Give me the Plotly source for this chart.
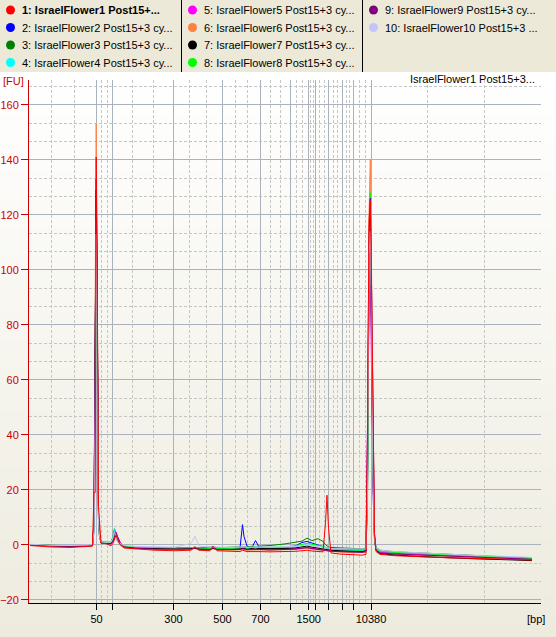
import plotly.graph_objects as go

# ---------------- data ----------------
# migration position (arbitrary time units) of each sample point
X = [30, 50, 70, 88, 92.5, 94, 95.2, 96.2, 97.2, 98.5, 99.5, 101, 106, 111, 113, 114.5, 116, 117.5, 120, 124,
     135, 155, 175, 191, 195, 199, 210, 213, 217, 232, 240, 242.5, 244, 247, 252, 255.5, 259, 270, 285, 295,
     302, 307, 312, 318, 323, 325.5, 327, 328.5, 331, 340, 352, 362, 366, 367.5, 369, 370.3, 371.5, 373, 374.5, 376,
     380, 395, 420, 450, 480, 510, 532]

Y1 = [-0.3, -0.8, -1.0, -0.8, -0.5, 19, 19, 141, 100, 14, 7, 0.5, 0.4, -0.4, 0.5, 2, 3.5, 2, 0, -1.2,
      -1.5, -2, -2.2, -2, -0.8, -2, -2.2, -0.5, -2.2, -2.4, -2.5, -2, -2.2, -2.5, -2.5, -2.4, -2.5, -2.6, -2.6, -2.4,
      -2.2, -2, -2.3, -2.4, -2.6, 8, 18, 6, -3, -3.4, -3.6, -3.8, -3.5, 40, 118, 125, 95, 40, 4, -2.5,
      -3.5, -4, -4.4, -4.8, -5, -5.4, -5.6]
Y2 = [0, -0.3, -0.5, -0.4, 0, 8, 60, 125, 90, 10, 4, 1, 0.8, 0.8, 2.5, 5.5, 3, 1.5, 0.3, -0.6,
      -1, -1.2, -1.3, -1.2, -1, -1.3, -1.4, -1.2, -1.4, -1.5, -1.2, 7.3, 3, -0.5, -1, 1.5, -0.8, -1.2, -1.2, -0.5,
      0.8, 1.2, 0.6, 0, -0.5, -1, -1.2, -1.3, -1.5, -1.8, -2, -2.2, -2, 20, 100, 110, 80, 30, 3, -1.5,
      -2.5, -3, -3.3, -3.6, -4.2, -4.6, -5]
Y3 = [0, -0.3, -0.4, -0.3, 0, 6, 55, 122, 85, 9, 3, 1, 0.9, 0.9, 3, 5.8, 3.5, 1.5, 0.5, -0.5,
      -0.9, -1.1, -1.2, -1.1, -0.9, -1.2, -1.1, -0.8, -1.1, -1.0, -0.8, -0.6, -0.7, -0.8, -0.6, -0.7, -0.5, -0.3, 0.3, 0.8,
      1.3, 2.4, 1.5, 2.2, 1.2, 0, -0.5, -0.8, -1, -1.2, -1.4, -1.5, -1.2, 15, 95, 108, 75, 25, 2, -1,
      -2, -2.6, -3, -3.4, -4, -4.5, -5]
Y4 = [0, -0.4, -0.5, -0.4, -0.1, 5, 50, 116, 80, 8, 3, 0.8, 0.7, 0.7, 3, 5.5, 3, 1, 0.2, -0.7,
      -1.1, -1.3, -1.4, -1.3, -1.1, -1.4, -1.5, -1.3, -1.5, -1.6, -1.4, -1, -1.3, -1.5, -1.2, -0.5, -1.2, -1.3, -1.2, -0.8,
      -0.3, 0.3, 0, -0.4, -0.8, -1.2, -1.4, -1.5, -1.7, -1.9, -2, -2.2, -1.8, 35, 100, 105, 70, 20, 2, -1.5,
      -2.5, -3, -3.4, -3.8, -4.3, -4.8, -5.2]
Y5 = [-0.1, -0.5, -0.6, -0.5, -0.2, 5, 45, 120, 85, 9, 3, 0.6, 0.5, 0.3, 1, 3, 4.4, 3, 1, -0.6,
      -1.2, -1.5, -1.6, -1.5, -1.2, -1.6, -1.7, -1.4, -1.7, -1.8, -1.6, -1.3, -1.5, -1.7, -1.6, -1.5, -1.6, -1.8, -1.7, -1.5,
      -1.2, -1, -1.3, -1.5, -1.8, -2, -2.1, -2.2, -2.3, -2.4, -2.5, -2.6, -2.3, 45, 90, 100, 65, 20, 2, -2,
      -2.8, -3.2, -3.6, -4, -4.5, -4.9, -5.3]
Y6 = [-0.2, -0.5, -0.7, -0.6, -0.3, 10, 70, 153, 100, 12, 5, 0.8, 0.5, 0.3, 1.5, 3.5, 3.8, 2, 0.5, -0.8,
      -1.3, -1.7, -1.8, -1.7, -1.4, -1.8, -1.9, -0.8, -1.9, -2, -1.8, -1.6, -1.8, -2, -1.9, -1.8, -1.9, -2, -1.9, -1.7,
      -1.5, -1.3, -1.6, -1.8, -2, -2.2, -2.3, -2.4, -2.5, -2.7, -2.9, -3, -2.8, 30, 120, 140, 100, 30, 3, -2,
      -3, -3.5, -3.9, -4.3, -4.7, -5.1, -5.4]
Y7 = [0, -0.4, -0.6, -0.5, -0.2, 8, 60, 129, 90, 10, 4, 0.7, 0.6, 0.5, 2, 4.5, 3, 1.5, 0.3, -0.7,
      -1.2, -1.4, -1.5, -1.4, -1.2, -1.5, -1.6, -1.3, -1.6, -1.7, -1.5, -1.2, -1.4, -1.6, -1.4, -1.2, -1.4, -1.5, -1.4, -1.2,
      -0.8, -0.5, -0.9, -1.2, -1.5, -1.7, -1.8, -1.9, -2, -2.2, -2.4, -2.5, -2.2, 25, 105, 115, 80, 25, 2, -2,
      -3.2, -3.8, -4.3, -4.8, -5.2, -5.5, -5.8]
Y8 = [0, -0.3, -0.5, -0.4, -0.1, 6, 50, 118, 82, 9, 3, 0.9, 0.8, 0.8, 2.5, 5, 3.5, 1.5, 0.4, -0.5,
      -0.9, -1.1, -1.2, -1.1, -0.9, -1.2, -1.3, -1, -1.3, -1.3, -1.1, -0.9, -1, -1.2, -1, -0.9, -1, -1, -0.8, -0.4,
      0, 0.5, 0.2, -0.2, -0.6, -1, -1.2, -1.3, -1.5, -1.7, -1.8, -2, -1.6, 20, 110, 128, 90, 30, 3, -1.5,
      -2.3, -2.8, -3.2, -3.6, -4.1, -4.6, -5]
Y9 = [-0.1, -0.5, -0.7, -0.6, -0.3, 9, 65, 133, 95, 11, 4, 0.6, 0.5, 0.3, 1.2, 3.2, 4.5, 3, 0.8, -0.8,
      -1.3, -1.6, -1.7, -1.6, -1.3, -1.7, -1.8, -1.2, -1.8, -1.9, -1.7, -1.4, -1.6, -1.8, -1.7, -1.6, -1.7, -1.9, -1.8, -1.6,
      -1.3, -1.1, -1.4, -1.6, -1.9, -2.1, -2.2, -2.3, -2.4, -2.5, -2.7, -2.8, -2.5, 40, 112, 126, 95, 35, 4, -2,
      -3, -3.4, -3.8, -4.2, -4.6, -5, -5.3]
Y10 = [0.2, -0.2, -0.3, -0.2, 0, 5, 45, 113, 78, 8, 3, 1, 0.9, 0.9, 2.5, 4.5, 3, 1.2, 0.5, -0.3,
       -0.6, -0.8, -0.9, 0.5, 3, -0.5, -0.9, -0.7, -0.9, -1, -0.8, -0.5, -0.7, -0.9, -0.8, -0.6, -0.8, -0.9, -0.8, -0.6,
       -0.3, 0, -0.3, -0.6, -0.9, -1.1, -1.2, -1.3, -1.4, -1.5, -1.6, -1.7, -1.5, 20, 105, 114, 85, 25, 2, -1.2,
       -2, -2.5, -3, -3.5, -4, -4.3, -4.6]

SAMPLE_NAMES = [
    "1: IsraelFlower1 Post15+...",
    "2: IsraelFlower2 Post15+3 cy...",
    "3: IsraelFlower3 Post15+3 cy...",
    "4: IsraelFlower4 Post15+3 cy...",
    "5: IsraelFlower5 Post15+3 cy...",
    "6: IsraelFlower6 Post15+3 cy...",
    "7: IsraelFlower7 Post15+3 cy...",
    "8: IsraelFlower8 Post15+3 cy...",
    "9: IsraelFlower9 Post15+3 cy...",
    "10: IsraelFlower10 Post15+3 ...",
]
COLORS = ["#FF0000", "#0000FF", "#008000", "#00FFFF", "#FF00FF",
          "#FF8040", "#000000", "#00FF00", "#800080", "#C4C4FA"]

# ladder peaks: position on the migration axis and size label
LADDER_POS = [96.5, 112.5, 173.5, 222.5, 260.5, 290.5, 308.7, 315.3, 328.7, 342.5, 353.3, 371]
LADDER_LABELS = ["50", "", "300", "500", "700", "", "1500", "", "", "", "", "10380"]
Y_TICKS = [-20, 0, 20, 40, 60, 80, 100, 120, 140, 160]
TITLE = "IsraelFlower1 Post15+3..."

# ---------------- layout geometry ----------------
W, H = 556, 637
ML, MR, MT, MB = 29, 15, 80, 34
PW, PH = W - ML - MR, H - MT - MB
XR = [29, 541]
YR = [-21.2, 169.0]


def px_x(px):
    return (px - ML) / PW


def px_y(py):
    return (H - MB - py) / PH


FONT = "Liberation Sans, Arial, sans-serif"

fig = go.Figure()
ALL_Y = [Y1, Y2, Y3, Y4, Y5, Y6, Y7, Y8, Y9, Y10]
order = list(range(1, 10)) + [0]
for i in order:
    fig.add_trace(go.Scatter(x=X, y=ALL_Y[i], mode="lines", name=SAMPLE_NAMES[i],
                             line=dict(color=COLORS[i], width=1), showlegend=False,
                             hoverinfo="skip"))

# minor (dashed) vertical grid: thirds between solid grid lines
bounds = [XR[0] + 0.3] + LADDER_POS + [540.7]
minor_x = []
for a, b in zip(bounds[:-1], bounds[1:]):
    minor_x += [a + (b - a) / 3, a + 2 * (b - a) / 3]
minor_y = []
for v in range(-20, 170, 20):
    for k in (1, 2):
        t = v + k * 20 / 3
        if t < YR[1]:
            minor_y.append(t)

shapes = []
# background gradient (white at top -> beige at bottom)
N = 40
y_start = 72
for i in range(N):
    f = (i + 0.5) / N
    r = round(255 + (237 - 255) * f)
    g = round(255 + (235 - 255) * f)
    b = round(255 + (222 - 255) * f)
    y0p = y_start + (H - y_start) * i / N
    y1p = y_start + (H - y_start) * (i + 1) / N + 0.5
    shapes.append(dict(type="rect", xref="paper", yref="paper", layer="below",
                       x0=px_x(0), x1=px_x(W), y0=px_y(y1p), y1=px_y(y0p),
                       fillcolor=f"rgb({r},{g},{b})", line=dict(width=0)))
# legend background
shapes.append(dict(type="rect", xref="paper", yref="paper", layer="below",
                   x0=px_x(0), x1=px_x(W), y0=px_y(72), y1=px_y(0),
                   fillcolor="#ECE9D8", line=dict(width=0)))
for sx in (181.5, 362.5):
    shapes.append(dict(type="line", xref="paper", yref="paper", layer="above",
                       x0=px_x(sx), x1=px_x(sx), y0=px_y(72), y1=px_y(0),
                       line=dict(color="#000000", width=1)))

annotations = []
col_x = [0, 182, 363]
row_y = [10, 27.5, 45, 62.5]
for idx, name in enumerate(SAMPLE_NAMES):
    c, r = divmod(idx, 4)
    cx = col_x[c] + 10.5
    cy = row_y[r]
    shapes.append(dict(type="circle", xref="paper", yref="paper", layer="above",
                       x0=px_x(cx - 4.5), x1=px_x(cx + 4.5), y0=px_y(cy + 4.5), y1=px_y(cy - 4.5),
                       fillcolor=COLORS[idx], line=dict(width=0)))
    txt = f"<b>{name}</b>" if idx == 0 else name
    annotations.append(dict(xref="paper", yref="paper", x=px_x(col_x[c] + 20), y=px_y(cy),
                            xanchor="left", yanchor="middle", text=txt, showarrow=False,
                            font=dict(family=FONT, size=11, color="#000000")))

annotations.append(dict(xref="paper", yref="paper", x=px_x(1), y=px_y(81), xanchor="left",
                        yanchor="middle", text="[FU]", showarrow=False,
                        font=dict(family=FONT, size=11, color="#CC0000")))
annotations.append(dict(xref="paper", yref="paper", x=px_x(547), y=px_y(619), xanchor="right",
                        yanchor="middle", text="[bp]", showarrow=False,
                        font=dict(family=FONT, size=11, color="#000000")))
annotations.append(dict(xref="paper", yref="paper", x=px_x(537), y=px_y(79), xanchor="right",
                        yanchor="middle", text=TITLE, showarrow=False,
                        font=dict(family=FONT, size=11, color="#000000")))

fig.update_layout(
    width=W, height=H,
    margin=dict(l=ML, r=MR, t=MT, b=MB, pad=0, autoexpand=False),
    paper_bgcolor="#FFFFFF", plot_bgcolor="rgba(0,0,0,0)",
    showlegend=False,
    shapes=shapes, annotations=annotations,
    xaxis=dict(range=XR, tickmode="array", tickvals=LADDER_POS, ticktext=LADDER_LABELS,
               automargin=False,
               ticks="outside", ticklen=6, tickcolor="#000000", tickwidth=1,
               showline=True, linecolor="#000000", linewidth=1, zeroline=False,
               showgrid=True, gridcolor="#AAB2BC", gridwidth=1,
               tickfont=dict(family=FONT, size=11, color="#000000"),
               minor=dict(tickmode="array", tickvals=minor_x, showgrid=True, griddash="3px,2px",
                          gridcolor="#C6C6C6", gridwidth=1, ticks="")),
    yaxis=dict(range=YR, tickmode="array", tickvals=Y_TICKS,
               automargin=False,
               ticks="outside", ticklen=7, tickcolor="#CC0000", tickwidth=1,
               showline=True, linecolor="#CC0000", linewidth=1, zeroline=False,
               showgrid=True, gridcolor="#AAB2BC", gridwidth=1,
               tickfont=dict(family=FONT, size=11, color="#CC0000"),
               minor=dict(tickmode="array", tickvals=minor_y, showgrid=True, griddash="3px,2px",
                          gridcolor="#C6C6C6", gridwidth=1, ticks="")),
)

fig.write_html("out.html", config={"displayModeBar": False},
               post_script="document.body.style.margin='0';document.body.style.overflow='hidden';")
